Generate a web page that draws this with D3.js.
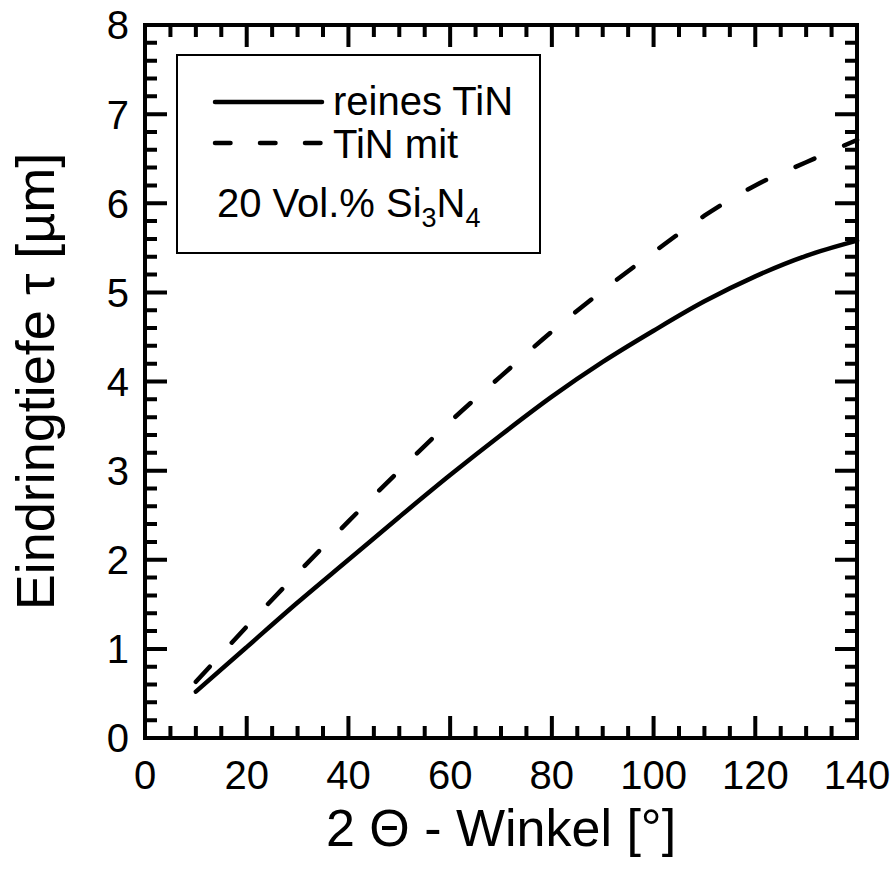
<!DOCTYPE html>
<html>
<head>
<meta charset="utf-8">
<script src="https://cdn.jsdelivr.net/npm/d3@7"></script>
<style>
  body { margin: 0; background: #fff; }
  text { font-family: "Liberation Sans", Arial, sans-serif; fill: #000; }
</style>
</head>
<body>
<div id="chart"></div>
<script>
// winkel values (2 theta, degrees)
const winkel = [10, 20, 30, 40, 50, 60, 70, 80, 90, 100, 110, 120, 130, 140]
// penetration depth, pure TiN
const reinesTiN = [0.52, 1.02, 1.52, 2.0, 2.48, 2.95, 3.4, 3.83, 4.22, 4.57, 4.9, 5.18, 5.41, 5.58]
// penetration depth, TiN with 20 vol.% Si3N4
const tinMitSi3N4 = [0.63, 1.25, 1.85, 2.43, 3.0, 3.55, 4.06, 4.56, 5.02, 5.45, 5.86, 6.2, 6.46, 6.71]

const xMajor = [0, 20, 40, 60, 80, 100, 120, 140]
const yMajor = [0, 1, 2, 3, 4, 5, 6, 7, 8]

const width = 895
const height = 876
const margin = {left: 145, right: 38, top: 25, bottom: 138}

const svg = d3.select("#chart").append("svg")
    .attr("width", width)
    .attr("height", height)

const x = d3.scaleLinear().domain([0, 140]).range([margin.left, width - margin.right])
const y = d3.scaleLinear().domain([0, 8]).range([height - margin.bottom, margin.top])

const xMinor = d3.range(0, 140.01, 5).filter(d => d % 20 !== 0)
const yMinor = d3.range(1, 40).map(d => d / 5).filter(d => !Number.isInteger(d))

// frame
svg.append("rect")
    .attr("x", x(0)).attr("y", y(8))
    .attr("width", x(140) - x(0)).attr("height", y(0) - y(8))
    .attr("fill", "none").attr("stroke", "#000").attr("stroke-width", 4)

// inward ticks on all four sides, one path
let tickPath = ""
xMinor.forEach(d => { tickPath += `M${x(d)},${y(0)}v-12M${x(d)},${y(8)}v12` })
xMajor.forEach(d => { tickPath += `M${x(d)},${y(0)}v-22M${x(d)},${y(8)}v22` })
yMinor.forEach(d => { tickPath += `M${x(0)},${y(d)}h12M${x(140)},${y(d)}h-12` })
yMajor.forEach(d => { tickPath += `M${x(0)},${y(d)}h22M${x(140)},${y(d)}h-22` })
svg.append("path")
    .attr("class", "ticks")
    .attr("d", tickPath)
    .attr("fill", "none")
    .attr("stroke", "#000")
    .attr("stroke-width", 4)

// tick labels
svg.append("g").selectAll("text").data(xMajor).enter().append("text")
    .attr("x", d => x(d)).attr("y", 789)
    .attr("text-anchor", "middle").style("font-size", "40px")
    .text(d => d)
svg.append("g").selectAll("text").data(yMajor).enter().append("text")
    .attr("x", 129).attr("y", d => y(d)).attr("dy", "0.36em")
    .attr("text-anchor", "end").style("font-size", "40px")
    .text(d => d)

const line = d3.line().x(d => x(d[0])).y(d => y(d[1])).curve(d3.curveMonotoneX)

svg.append("path")
    .datum(winkel.map((w, i) => [w, reinesTiN[i]]))
    .attr("d", line)
    .attr("fill", "none").attr("stroke", "#000").attr("stroke-width", 4.5)
    .attr("stroke-linecap", "round")

svg.append("path")
    .datum(winkel.map((w, i) => [w, tinMitSi3N4[i]]))
    .attr("d", line)
    .attr("fill", "none").attr("stroke", "#000").attr("stroke-width", 4.5)
    .attr("stroke-linecap", "round")
    .attr("stroke-dasharray", "20.5 32.5")

// legend
const legend = svg.append("g")
legend.append("rect")
    .attr("x", 177).attr("y", 55).attr("width", 363).attr("height", 198)
    .attr("fill", "none").attr("stroke", "#000").attr("stroke-width", 2)
legend.append("line")
    .attr("x1", 215).attr("x2", 322).attr("y1", 102).attr("y2", 102)
    .attr("stroke", "#000").attr("stroke-width", 4.5).attr("stroke-linecap", "round")
legend.append("line")
    .attr("x1", 215).attr("x2", 322).attr("y1", 143).attr("y2", 143)
    .attr("stroke", "#000").attr("stroke-width", 4.5).attr("stroke-linecap", "round")
    .attr("stroke-dasharray", "15.5 29.5")
legend.append("text").attr("x", 333).attr("y", 115).style("font-size", "40px").text("reines TiN")
legend.append("text").attr("x", 333).attr("y", 158).style("font-size", "40px").text("TiN mit")
const l3 = legend.append("text").attr("x", 217).attr("y", 217).style("font-size", "40px")
l3.append("tspan").text("20 Vol.% Si")
l3.append("tspan").attr("dy", 10).style("font-size", "27px").text("3")
l3.append("tspan").attr("dy", -10).text("N")
l3.append("tspan").attr("dy", 10).style("font-size", "27px").text("4")

// axis titles
svg.append("text")
    .attr("x", (x(0) + x(140)) / 2).attr("y", 846)
    .attr("text-anchor", "middle").style("font-size", "52px")
    .text("2 Θ - Winkel [°]")

svg.append("text")
    .attr("transform", `translate(54,${(y(0) + y(8)) / 2}) rotate(-90)`)
    .attr("text-anchor", "middle").style("font-size", "54px")
    .text("Eindringtiefe τ [µm]")
</script>
</body>
</html>
